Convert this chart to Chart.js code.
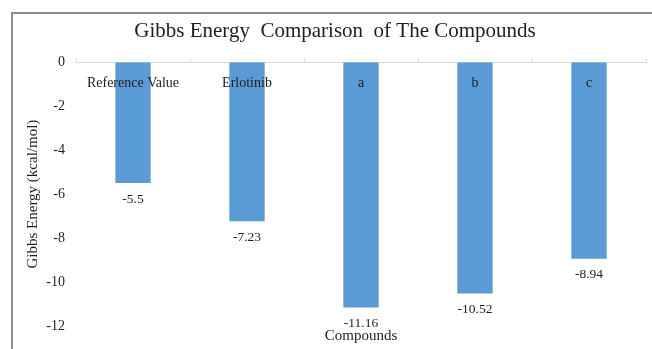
<!DOCTYPE html>
<html>
<head>
<meta charset="utf-8">
<script src="https://cdn.jsdelivr.net/npm/chart.js@4/dist/chart.umd.min.js"></script>
<style>
  html, body { margin: 0; padding: 0; background: #fff; overflow: hidden; }
  #frame { position: absolute; left: 11px; top: 12px; width: 641px; height: 337px;
           border-left: 2px solid #8c8c8c; border-top: 2px solid #8c8c8c; box-sizing: border-box; }
  #box { position: absolute; left: 0; top: 0; width: 639px; height: 335px; }
</style>
</head>
<body>
<div id="frame"><div id="box"><canvas id="c"></canvas></div></div>
<script>
const categories = ["Reference Value", "Erlotinib", "a", "b", "c"];
const gibbsValues = [-5.5, -7.23, -11.16, -10.52, -8.94];
const valueLabels = ["-5.5", "-7.23", "-11.16", "-10.52", "-8.94"];
const yTicks = [0, -2, -4, -6, -8, -10, -12];

const SERIF = "'Liberation Serif', 'Times New Roman', serif";
const TXT = "#1e1e1e";

const valueLabelPlugin = {
  id: "valueLabels",
  afterDatasetsDraw(chart) {
    const ctx = chart.ctx;
    const meta = chart.getDatasetMeta(0);
    ctx.save();
    ctx.font = "13.5px " + SERIF;
    ctx.fillStyle = TXT;
    ctx.textAlign = "center";
    ctx.textBaseline = "middle";
    meta.data.forEach((bar, i) => {
      ctx.fillText(valueLabels[i], bar.x, bar.y + 16);
    });
    ctx.restore();
  }
};

new Chart(document.getElementById("c"), {
  type: "bar",
  data: {
    labels: categories,
    datasets: [{
      label: "Gibbs Energy",
      data: gibbsValues,
      backgroundColor: "#5b9bd5",
      borderWidth: 0,
      categoryPercentage: 1,
      barPercentage: 0.31
    }]
  },
  options: {
    responsive: true,
    maintainAspectRatio: false,
    animation: false,
    layout: { padding: { top: 4, left: 11, right: 6, bottom: 0 } },
    plugins: {
      legend: { display: false },
      tooltip: { enabled: false },
      title: {
        display: true,
        text: "Gibbs Energy  Comparison  of The Compounds",
        color: TXT,
        font: { family: SERIF, size: 21, weight: "normal" },
        padding: { top: 1, bottom: 18 }
      }
    },
    scales: {
      x: {
        type: "category",
        position: { y: 0 },
        border: { display: true, color: "#d9d9d9", width: 1 },
        grid: { display: true, drawOnChartArea: false, drawTicks: true, tickLength: -4, color: "#d9d9d9", offset: true },
        ticks: { z: 1, color: TXT, font: { family: SERIF, size: 14 }, padding: 16.6, maxRotation: 0, autoSkip: false },
        afterFit(scale) { scale.paddingLeft = 0; scale.paddingRight = 0; }
      },
      x2: {
        type: "category",
        position: "bottom",
        labels: categories,
        border: { display: false },
        grid: { display: false, drawTicks: false },
        ticks: { display: false },
        title: {
          display: true,
          text: "Compounds",
          color: TXT,
          font: { family: SERIF, size: 15 },
          padding: { top: 1, bottom: 4 }
        }
      },
      y: {
        min: Math.min(...yTicks),
        max: Math.max(...yTicks),
        border: { display: false },
        grid: { display: false, drawTicks: false },
        afterBuildTicks(scale) { scale.ticks = yTicks.map(v => ({ value: v })); },
        afterFit(scale) { scale.width = 52; },
        ticks: { color: TXT, font: { family: SERIF, size: 14 }, padding: 11 },
        title: {
          display: true,
          text: "Gibbs Energy (kcal/mol)",
          color: TXT,
          font: { family: SERIF, size: 15 },
          padding: { top: 0, bottom: 4 }
        }
      }
    }
  },
  plugins: [valueLabelPlugin]
});
</script>
</body>
</html>
